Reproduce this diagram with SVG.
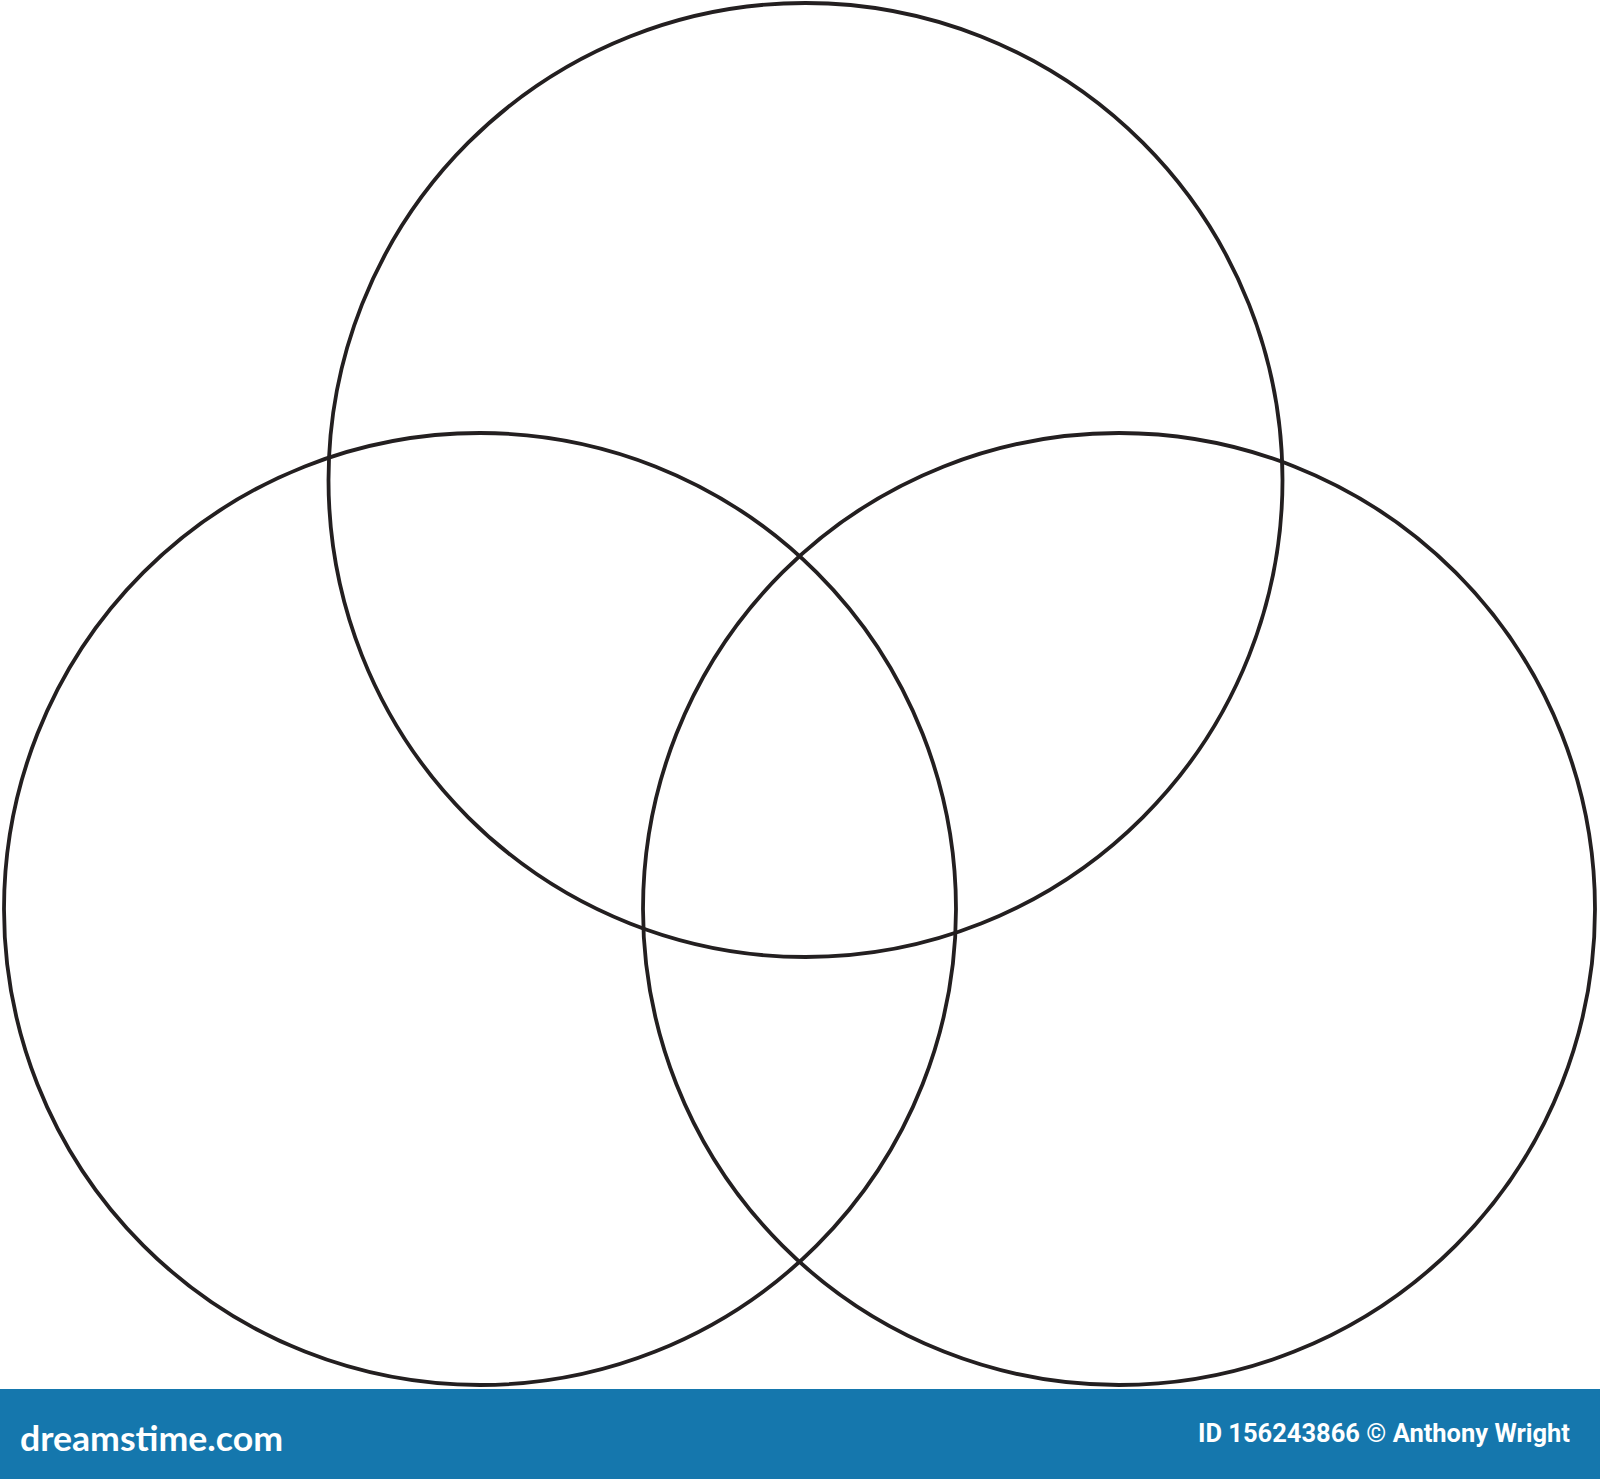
<svg xmlns="http://www.w3.org/2000/svg" width="1600" height="1479" viewBox="0 0 1600 1479">
<style>
.ring{fill:none;stroke:#231f20;stroke-width:3.8}
.logo{font-family:"Lato","Liberation Sans",sans-serif;font-weight:bold;font-size:34px;fill:#ffffff}
.credit{font-family:"Roboto","Liberation Sans",sans-serif;font-weight:bold;font-size:25px;fill:#ffffff}
</style>
<rect x="0" y="0" width="1600" height="1479" fill="#ffffff"/>
<g id="circle-top"><circle class="ring" cx="805.5" cy="480" r="477"/></g>
<g id="circle-left"><circle class="ring" cx="480" cy="909" r="476"/></g>
<g id="circle-right"><circle class="ring" cx="1119" cy="909" r="476"/></g>
<g id="footer">
<rect x="0" y="1389" width="1600" height="90" fill="#1577ad"/>
<text class="logo" x="20" y="1451" textLength="263" lengthAdjust="spacingAndGlyphs">dreamstime.com</text>
<text class="credit" x="1198" y="1442" textLength="372" lengthAdjust="spacingAndGlyphs">ID 156243866 © Anthony Wright</text>
</g>
</svg>
